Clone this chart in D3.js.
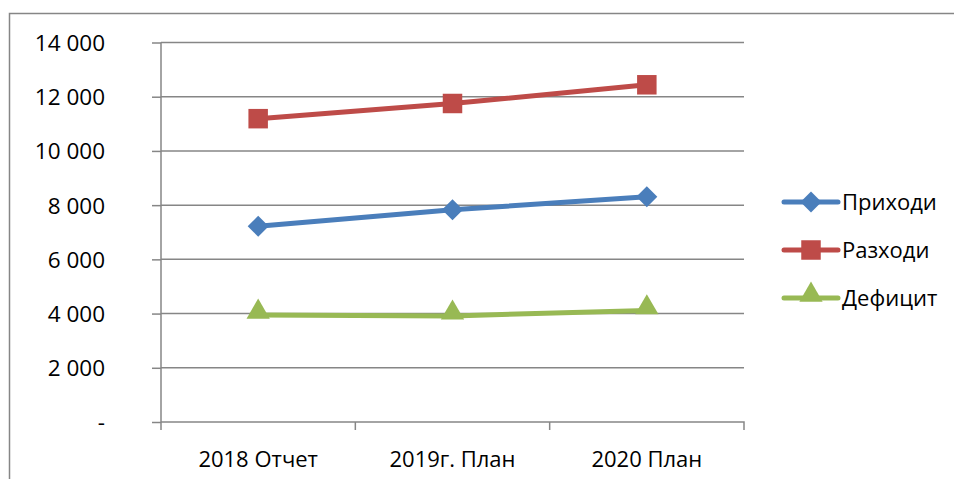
<!DOCTYPE html>
<html>
<head>
<meta charset="utf-8">
<script src="https://cdn.jsdelivr.net/npm/d3@7"></script>
<style>
body { margin: 0; background: #fff; }
svg text { font-family: "Open Sans", sans-serif; fill: #000; }
</style>
</head>
<body>
<script>
var w = 954, h = 479;
var margin = {"left": 161, "right": 210, "top": 42.5, "bottom": 57};

// data
var categories = ["2018 Отчет", "2019г. План", "2020 План"];
var seriesNames = ["Приходи", "Разходи", "Дефицит"];
var prihodi = [7220, 7830, 8310];
var razhodi = [11190, 11750, 12440];
var deficit = [3950, 3915, 4110];
var yTicks = [0, 2000, 4000, 6000, 8000, 10000, 12000, 14000];
var colors = ["#4a7ebb", "#be4b48", "#98b954"];

var seriesValues = [prihodi, razhodi, deficit];

// marker shapes: diamond, square, triangle
var markerPaths = [
    "M0,-10.5L10.5,0L0,10.5L-10.5,0Z",
    d3.symbol().type(d3.symbolSquare).size(380)(),
    d3.symbol().type(d3.symbolTriangle).size(235)()
];
var markerDy = [0, 0, -3];

var svg = d3.select("body").append("svg")
            .attr("width", w)
            .attr("height", h);

// outer frame
svg.append("rect")
    .attr("x", 9.5).attr("y", 13.5)
    .attr("width", w + 10).attr("height", h + 10)
    .attr("fill", "none")
    .attr("stroke", "#868686")
    .attr("stroke-width", 1.5);

var xScale = d3.scaleBand()
                .domain(categories)
                .range([margin.left, w - margin.right]);

var yScale = d3.scaleLinear()
                .domain([0, 14000])
                .range([h - margin.bottom, margin.top]);

// gridlines
svg.append("g")
    .selectAll("line")
    .data(yTicks.slice(1))
    .enter()
    .append("line")
    .attr("x1", margin.left)
    .attr("x2", w - margin.right)
    .attr("y1", function(d){ return yScale(d); })
    .attr("y2", function(d){ return yScale(d); })
    .attr("stroke", "#868686")
    .attr("stroke-width", 1.5);

function fmt(d){
    if (d === 0) return "-";
    return d3.format(",")(d).replace(",", " ");
}

var yAxis = d3.axisLeft(yScale)
                .tickValues(yTicks)
                .tickSize(9)
                .tickPadding(47)
                .tickFormat(fmt);

var gy = svg.append("g")
    .attr("transform", "translate(" + margin.left + ",0)")
    .call(yAxis);
gy.select(".domain").attr("stroke", "#868686").attr("stroke-width", 1.5)
    .attr("d", "M0," + (yScale(0) + 8) + "V" + yScale(14000));
gy.selectAll(".tick line").attr("stroke", "#868686").attr("stroke-width", 1.5);
gy.selectAll(".tick text").style("font-size", "22.5px").attr("dy", "0.35em");

var xAxis = d3.axisBottom(xScale).tickSize(0).tickPadding(37);
var gx = svg.append("g")
    .attr("transform", "translate(0," + yScale(0) + ")")
    .call(xAxis);
gx.select(".domain").attr("stroke", "#868686").attr("stroke-width", 1.5)
    .attr("d", "M" + margin.left + ",0H" + (w - margin.right) + "v8");
gx.selectAll(".tick text").style("font-size", "22px").attr("dy", "0.35em");

// band boundary ticks
svg.append("g")
    .selectAll("line")
    .data(categories.slice(1))
    .enter()
    .append("line")
    .attr("x1", function(d){ return xScale(d); })
    .attr("x2", function(d){ return xScale(d); })
    .attr("y1", yScale(0))
    .attr("y2", yScale(0) + 8)
    .attr("stroke", "#868686")
    .attr("stroke-width", 1.5);

var line = d3.line()
    .x(function(d, i){ return xScale(categories[i]) + xScale.bandwidth() / 2; })
    .y(function(d){ return yScale(d); });

seriesValues.forEach(function(vals, s){
    var g = svg.append("g");
    g.append("path")
        .datum(vals)
        .attr("d", line)
        .attr("fill", "none")
        .attr("stroke", colors[s])
        .attr("stroke-width", 5)
        .attr("stroke-linejoin", "round");
    g.selectAll("path.marker")
        .data(vals)
        .enter()
        .append("path")
        .classed("marker", true)
        .attr("d", markerPaths[s])
        .attr("transform", function(d, i){
            return "translate(" + (xScale(categories[i]) + xScale.bandwidth() / 2) + "," + (yScale(d) + markerDy[s]) + ")";
        })
        .attr("fill", colors[s]);
});

// legend
var legend = svg.append("g")
    .selectAll("g")
    .data(seriesNames)
    .enter()
    .append("g")
    .attr("transform", function(d, i){ return "translate(784," + (202 + i * 48) + ")"; });

legend.append("line")
    .attr("x1", 0).attr("x2", 54)
    .attr("stroke", function(d, i){ return colors[i]; })
    .attr("stroke-width", 5)
    .attr("stroke-linecap", "round");

legend.append("path")
    .attr("d", function(d, i){ return markerPaths[i]; })
    .attr("transform", function(d, i){ return "translate(27," + markerDy[i] + ")"; })
    .attr("fill", function(d, i){ return colors[i]; });

legend.append("text")
    .attr("x", 58)
    .attr("dy", "0.35em")
    .style("font-size", "22px")
    .text(function(d){ return d; });
</script>
</body>
</html>
